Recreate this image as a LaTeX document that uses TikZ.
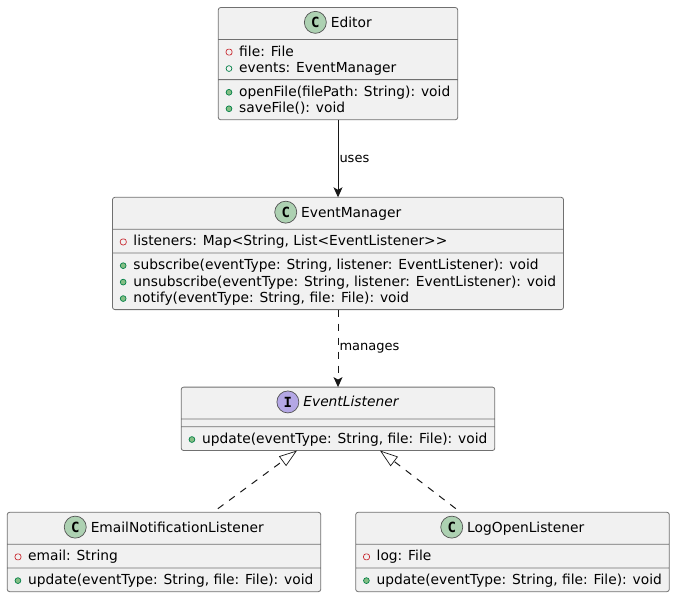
\documentclass[tikz,border=0pt]{standalone}
\usepackage{fontspec}
\setmainfont{DejaVu Sans}
\setmonofont{DejaVu Sans Mono}
\usepackage{tikz}
\usetikzlibrary{positioning, shapes.multipart, arrows.meta}

\definecolor{lineclr}{HTML}{181818}
\definecolor{edgeclr}{HTML}{707070}
\definecolor{boxclr}{HTML}{F1F1F1}
\definecolor{classclr}{HTML}{ADD1B2}
\definecolor{ifaceclr}{HTML}{B4A7E5}
\definecolor{privclr}{HTML}{C82930}
\definecolor{pubclr}{HTML}{038048}
\definecolor{pubfill}{HTML}{84BE84}

\newcommand{\linerule}{\rule[-3.4pt]{0pt}{16.45pt}}
\newcommand{\privfield}{\linerule\makebox[13.5pt][l]{\tikz[baseline=-4pt]\draw[privclr, line width=0.7pt] (0.3pt,-3pt) rectangle (6.3pt,3pt);}}
\newcommand{\pubfield}{\linerule\makebox[13.5pt][l]{\tikz[baseline=-4pt]\draw[pubclr, line width=0.7pt] (3.2pt,0) circle (2.9pt);}}
\newcommand{\pubmethod}{\linerule\makebox[13.5pt][l]{\tikz[baseline=-4pt]\draw[pubclr, fill=pubfill, line width=0.7pt] (3.2pt,0) circle (2.9pt);}}
\newcommand{\titlerule}{\rule[-8.4pt]{0pt}{24.6pt}\hspace*{26.5pt}}
\newcommand{\emptypart}{\fontsize{1}{1}\selectfont\rule{0pt}{0.5pt}}

\begin{document}
\begin{tikzpicture}[
  x=1pt, y=1pt,
  font=\fontsize{13.8}{16.45}\selectfont,
  umlbox/.style={draw=edgeclr, line width=0.8pt, fill=boxclr, rounded corners=2.5pt,
    rectangle split, rectangle split parts=3, rectangle split part align={center,left,left},
    align=left, inner xsep=7.5pt, inner ysep=3.25pt, outer sep=0pt},
  icon/.style={circle, draw=lineclr!75, line width=0.7pt, minimum size=22pt, inner sep=0pt,
    font=\fontsize{14}{14}\ttfamily\bfseries\selectfont, text=black},
  rel/.style={draw=lineclr, line width=1pt},
  realize/.style={rel, dash pattern=on 7pt off 7pt, dash phase=8pt, -{Triangle[open, length=18pt, width=12pt, line width=0.7pt]}},
  lbl/.style={font=\fontsize{13}{15}\selectfont, inner sep=1pt, text=black},
]
\useasboundingbox (0,0) rectangle (676,-598);

\node[umlbox, anchor=north] (editor) at (338,-7.5) {\titlerule Editor
  \nodepart{two}\privfield file: File\\\pubfield events: EventManager
  \nodepart{three}\pubmethod openFile(filePath: String): void\\\pubmethod saveFile(): void};
\node[umlbox, below=77.5pt of editor] (manager) {\titlerule EventManager
  \nodepart{two}\privfield listeners: Map<String, List<EventListener>{}>
  \nodepart{three}\pubmethod subscribe(eventType: String, listener: EventListener): void\\\pubmethod unsubscribe(eventType: String, listener: EventListener): void\\\pubmethod notify(eventType: String, file: File): void};
\node[umlbox, below=77.5pt of manager] (listener) {\titlerule\textit{EventListener}
  \nodepart{two}\emptypart
  \nodepart{three}\pubmethod update(eventType: String, file: File): void};
\node[umlbox, below=61.7pt of listener, xshift=-174pt] (email) {\titlerule EmailNotificationListener
  \nodepart{two}\privfield email: String
  \nodepart{three}\pubmethod update(eventType: String, file: File): void};
\node[umlbox, below=61.7pt of listener, xshift=174.5pt] (logger) {\titlerule LogOpenListener
  \nodepart{two}\privfield log: File
  \nodepart{three}\pubmethod update(eventType: String, file: File): void};

\node[icon, fill=classclr] (editoricon) at ([shift={(11pt,5pt)}]editor.text) {C};
\node[icon, fill=classclr] (managericon) at ([shift={(11pt,5pt)}]manager.text) {C};
\node[icon, fill=ifaceclr] (listenericon) at ([shift={(11pt,5pt)}]listener.text) {I};
\node[icon, fill=classclr] (emailicon) at ([shift={(11pt,5pt)}]email.text) {C};
\node[icon, fill=classclr] (loggericon) at ([shift={(11pt,5pt)}]logger.text) {C};

\draw[rel, -{Stealth[length=10pt, width=9pt, inset=2.5pt]}] (editor.south) -- node[lbl, right, pos=0.5]{uses} (manager.north);
\draw[rel, dash pattern=on 7pt off 7pt, -{Stealth[length=10pt, width=9pt, inset=2.5pt]}] (manager.south) -- node[lbl, right, pos=0.5]{manages} (listener.north);
\draw[realize] ([xshift=49pt]email.north) -- ([xshift=-41pt]listener.south);
\draw[realize] ([xshift=-52pt]logger.north) -- ([xshift=42pt]listener.south);
\end{tikzpicture}
\end{document}
